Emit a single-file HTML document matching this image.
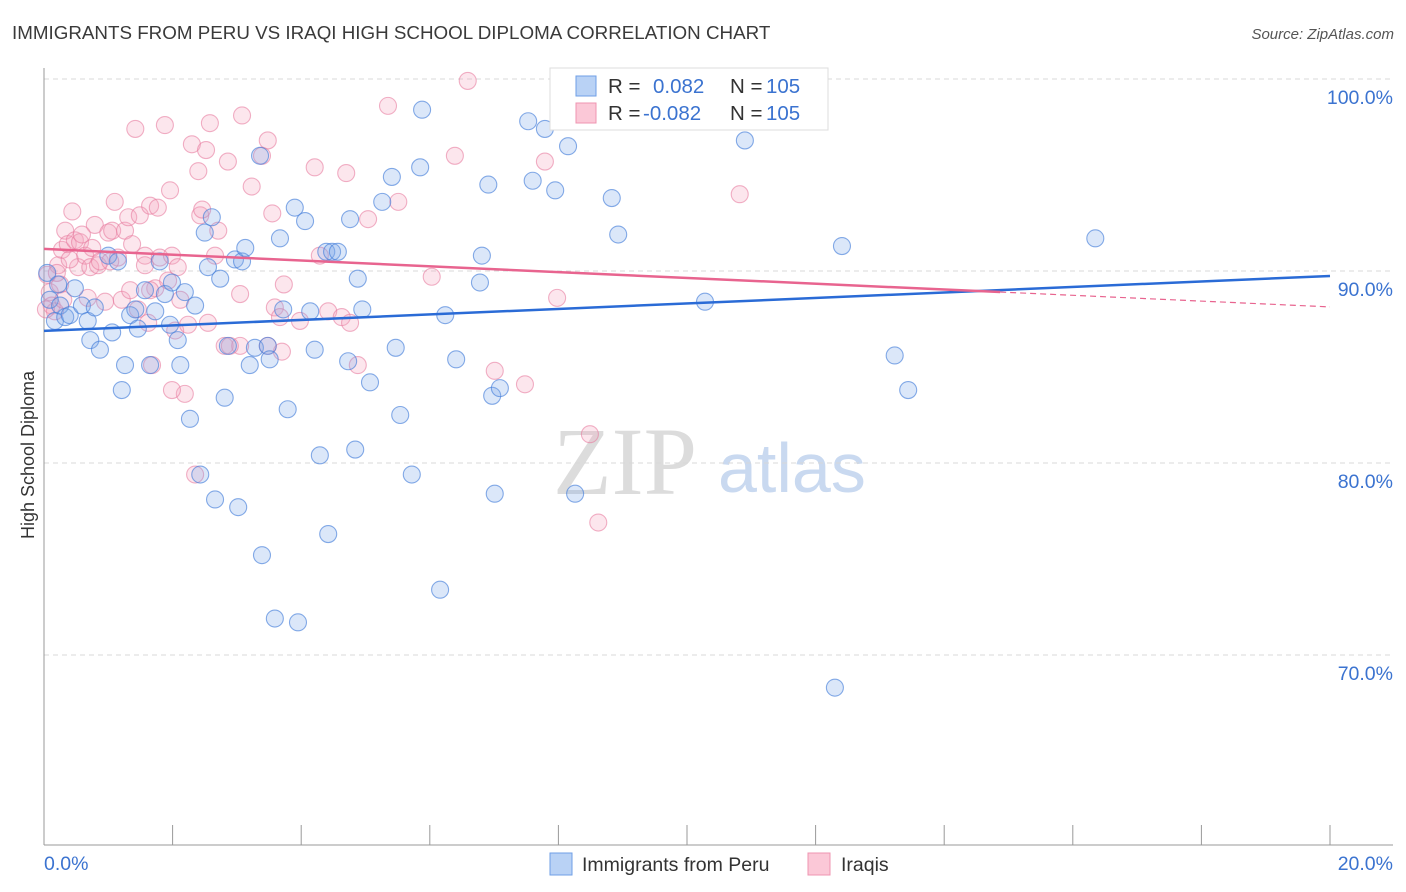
<!DOCTYPE html>
<html><head><meta charset="utf-8">
<style>
body{margin:0;background:#fff;font-family:"Liberation Sans",sans-serif;}
svg{display:block}
</style></head>
<body>
<svg id="chart" width="1406" height="892" viewBox="0 0 1406 892" xmlns="http://www.w3.org/2000/svg">
<text x="12" y="39" font-size="18.8" fill="#3a3a3a">IMMIGRANTS FROM PERU VS IRAQI HIGH SCHOOL DIPLOMA CORRELATION CHART</text>
<text x="1394" y="39" font-size="15" fill="#555" font-style="italic" text-anchor="end">Source: ZipAtlas.com</text>
<text transform="translate(34,455) rotate(-90)" font-size="18" fill="#333" text-anchor="middle">High School Diploma</text>
<g>
<text x="553" y="494" font-family="Liberation Serif,serif" font-size="96" fill="#dcdcdc">ZIP</text>
<text x="718" y="492" font-size="70" fill="#c9d9f0">atlas</text>
</g>
<g id="grid"></g>
<g id="axes"></g>
<g id="pts"></g>
<g id="lines"></g>
<g>
<rect x="550" y="68" width="278" height="62" fill="#fff" stroke="#ddd"/>
<rect x="576" y="76" width="20" height="20" fill="#b9d2f5" stroke="#6f9fe6"/>
<rect x="576" y="103" width="20" height="20" fill="#fbc8d7" stroke="#ef94b0"/>
<text x="608" y="93" font-size="20.5" fill="#333">R =</text>
<text x="653" y="93" font-size="20.5" fill="#3b73d0">0.082</text>
<text x="730" y="93" font-size="20.5" fill="#333">N =</text>
<text x="766" y="93" font-size="20.5" fill="#3b73d0">105</text>
<text x="608" y="120" font-size="20.5" fill="#333">R =</text>
<text x="643" y="120" font-size="20.5" fill="#3b73d0">-0.082</text>
<text x="730" y="120" font-size="20.5" fill="#333">N =</text>
<text x="766" y="120" font-size="20.5" fill="#3b73d0">105</text>
</g>
<g>
<rect x="550" y="853" width="22" height="22" fill="#b9d2f5" stroke="#6f9fe6"/>
<text x="582" y="871" font-size="19.5" fill="#333">Immigrants from Peru</text>
<rect x="808" y="853" width="22" height="22" fill="#fbc8d7" stroke="#ef94b0"/>
<text x="841" y="871" font-size="19.5" fill="#333">Iraqis</text>
</g>
</svg>
<script>
const blueX=[.05,.09,.17,.22,.25,.33,.40,.48,.59,.68,.72,.79,.87,1.00,1.06,1.15,1.21,1.26,1.34,1.42,1.46,1.57,1.65,1.73,1.80,1.88,1.96,1.99,2.08,2.12,2.19,2.27,2.35,2.43,2.50,2.55,2.61,2.66,2.74,2.81,2.86,2.97,3.02,3.08,3.13,3.20,3.28,3.36,3.39,3.48,3.51,3.59,3.67,3.72,3.79,3.90,3.95,4.06,4.14,4.21,4.29,4.39,4.42,4.48,4.57,4.73,4.76,4.84,4.88,4.95,5.07,5.26,5.41,5.47,5.54,5.72,5.85,5.88,6.16,6.24,6.41,6.78,6.81,6.91,6.97,7.01,7.09,7.53,7.60,7.79,7.95,8.15,8.26,8.83,8.93,10.28,10.90,12.30,12.41,13.23,13.44,16.35];
const blueY=[89.9,88.5,87.4,89.3,88.2,87.6,87.7,89.1,88.2,87.4,86.4,88.1,85.9,90.8,86.8,90.5,83.8,85.1,87.7,88.0,87.0,89.0,85.1,87.9,90.5,88.8,87.2,89.4,86.4,85.1,88.9,82.3,88.2,79.4,92.0,90.2,92.8,78.1,89.6,83.4,86.1,90.6,77.7,90.5,91.2,85.1,86.0,96.0,75.2,86.1,85.4,71.9,91.7,88.0,82.8,93.3,71.7,92.6,87.9,85.9,80.4,91.0,76.3,91.0,91.0,85.3,92.7,80.7,89.6,88.0,84.2,93.6,94.9,86.0,82.5,79.4,95.4,98.4,73.4,87.7,85.4,89.4,90.8,94.5,83.5,78.4,83.9,97.8,94.7,97.4,94.2,96.5,78.4,93.8,91.9,88.4,96.8,68.3,91.3,85.6,83.8,91.7];
const pinkX=[.05,.09,.12,.17,.22,.25,.28,.33,.37,.44,.48,.53,.56,.64,.68,.72,.75,.79,.84,.87,.95,1.00,1.06,1.10,1.15,1.21,1.26,1.31,1.37,1.42,1.46,1.49,1.57,1.62,1.65,1.68,1.73,1.77,1.80,1.88,1.93,1.96,1.99,2.04,2.08,2.19,2.24,2.30,2.35,2.40,2.43,2.46,2.52,2.55,2.58,2.66,2.71,2.81,2.86,3.05,3.08,3.23,3.39,3.48,3.55,3.59,3.67,3.70,3.73,3.98,4.21,4.29,4.42,4.63,4.70,4.76,4.88,5.04,5.35,5.51,6.03,6.39,6.59,7.01,7.48,7.79,7.98,8.49,8.62,10.82,1.03,.59,.40,.30,.20,.03,1.34,1.65,2.12,3.05,3.48,1.99,1.57,2.89];
const pinkY=[89.8,88.9,88.2,87.9,90.3,89.3,91.1,92.1,91.4,93.1,91.6,90.2,91.5,90.8,88.6,90.2,91.2,92.4,90.3,90.5,88.4,92.0,92.1,93.6,90.7,88.5,92.1,92.8,91.4,97.4,88.0,92.9,90.8,87.3,93.4,85.1,89.1,93.3,90.7,97.6,89.5,94.2,90.8,86.9,90.2,83.6,87.2,96.6,79.4,95.2,92.9,93.2,96.3,87.3,97.7,90.8,92.1,86.1,95.7,88.8,98.1,94.4,96.0,96.8,93.0,88.1,87.6,85.8,89.3,87.4,95.4,90.8,87.9,87.6,95.1,87.3,85.1,92.7,98.6,93.6,89.7,96.0,99.9,84.8,84.1,95.7,88.6,81.5,76.9,94.0,90.5,91.9,90.6,88.5,89.9,88.0,89.0,89.0,88.5,86.1,86.1,83.8,90.3,86.1];
const blueTrend=[86.88,89.74];
const pinkTrend=[91.15,88.13];
const pinkSolidEnd=14.87;
const yTicks=[100,90,80,70];
const xTickCount=10;

const X0=44,X1=1330,Y100=79,PX=19.2;
const sx=v=>X0+(X1-X0)*v/20;
const sy=v=>Y100+(100-v)*PX;
const NS="http://www.w3.org/2000/svg";
function mk(tag,attrs,parent){const e=document.createElementNS(NS,tag);for(const k in attrs)e.setAttribute(k,attrs[k]);parent.appendChild(e);return e;}
const grid=document.getElementById('grid'),axes=document.getElementById('axes'),pts=document.getElementById('pts'),lines=document.getElementById('lines');
yTicks.forEach(t=>{
 const l=mk('line',{x1:X0,x2:1393,y1:sy(t),y2:sy(t),stroke:'#d8d8d8','stroke-dasharray':'5,4'},grid);
 
 
 const tx=mk('text',{x:1393,y:sy(t)+25,'font-size':19.5,fill:'#3b73d0','text-anchor':'end'},grid);
 tx.textContent=t.toFixed(1)+'%';
 
 
});
const ya=mk('line',{x1:X0,x2:X0,y1:68,y2:845,stroke:'#999'},axes);


const xa=mk('line',{x1:X0,x2:1393,y1:845,y2:845,stroke:'#999'},axes);


for(let i=0;i<=xTickCount;i++){
 const v=20*i/xTickCount;
 const t=mk('line',{x1:sx(v),x2:sx(v),y1:825,y2:845,stroke:'#999'},axes);
 
 
}
const l0=mk('text',{x:X0,y:870,'font-size':19.5,fill:'#3b73d0'},axes);l0.textContent='0.0%';


const l1=mk('text',{x:1393,y:870,'font-size':19.5,fill:'#3b73d0','text-anchor':'end'},axes);l1.textContent='20.0%';


function drawPts(xs,ys,fill,stroke,name){
 xs.forEach((x,i)=>{
  const c=mk('circle',{cx:sx(x),cy:sy(ys[i]),r:8.5,fill:fill,stroke:stroke,'stroke-width':1.1},pts);
  
  
 });
}
drawPts(pinkX,pinkY,'rgba(245,165,192,0.28)','rgba(232,125,160,0.6)','iraqis-point');
drawPts(blueX,blueY,'rgba(125,168,235,0.28)','rgba(70,128,218,0.65)','peru-point');
const py=x=>pinkTrend[0]+(pinkTrend[1]-pinkTrend[0])*x/20;
const bl=mk('line',{x1:sx(0),y1:sy(blueTrend[0]),x2:sx(20),y2:sy(blueTrend[1]),stroke:'#2a6bd6','stroke-width':2.5},lines);


const pl=mk('line',{x1:sx(0),y1:sy(py(0)),x2:sx(pinkSolidEnd),y2:sy(py(pinkSolidEnd)),stroke:'#e8648f','stroke-width':2.5},lines);


const pd=mk('line',{x1:sx(pinkSolidEnd),y1:sy(py(pinkSolidEnd)),x2:sx(20),y2:sy(py(20)),stroke:'#e8648f','stroke-width':1.2,'stroke-dasharray':'6,4'},lines);


</script>
</body></html>
